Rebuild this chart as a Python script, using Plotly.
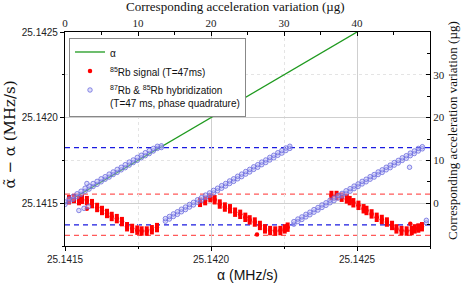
import plotly.graph_objects as go

# ---------------- data ----------------
# alpha line (MHz/s): alpha_hat - alpha reference vs alpha
alpha_line = [25.1415, 25.1428]

# 87Rb & 85Rb hybridization (in µg, top axis vs right axis), two repeats per step
blue_x = [0.00, 0.55, 1.10, 1.65, 2.20, 2.75, 3.30, 3.85, 4.40, 4.95, 5.50, 6.05, 6.60, 7.15,
          7.70, 8.25, 8.80, 9.35, 9.90, 10.45, 11.00, 11.55, 12.10, 12.65, 13.20,
          13.75, 14.30, 14.85, 15.40, 15.95, 16.50, 17.05, 17.60, 18.15, 18.70, 19.25, 19.80,
          20.35, 20.90, 21.45, 22.00, 22.55, 23.10, 23.65, 24.20, 24.75, 25.30, 25.85, 26.40,
          26.95, 27.50, 28.05, 28.60, 29.15, 29.70, 30.25, 30.80,
          31.35, 31.90, 32.45, 33.00, 33.55, 34.10, 34.65, 35.20, 35.75, 36.30, 36.85, 37.40,
          37.95, 38.50, 39.05, 39.60, 40.15, 40.70, 41.25, 41.80, 42.35, 42.90, 43.45, 44.00,
          44.55, 45.10, 45.65, 46.20, 46.75, 47.30, 47.85, 48.40, 48.95,
          49.50]
blue_ya = [-0.3, 0.4, 0.9, 1.5, 2.1, 2.8, 3.3, 3.9, 4.4, 5.0, 5.6, 6.1, 6.7, 7.2,
           7.8, 8.3, 8.9, 9.5, 10.0, 10.6, 11.1, 11.6, 12.2, 12.8, 13.0,
           -4.2, -3.7, -3.1, -2.6, -2.0, -1.5, -0.9, -0.4, 0.2, 0.7, 1.3, 1.8,
           2.4, 2.9, 3.5, 4.0, 4.6, 5.1, 5.7, 6.2, 6.8, 7.3, 7.9, 8.4,
           9.0, 9.5, 10.1, 10.6, 11.2, 11.7, 12.3, 12.8,
           -4.9, -4.3, -3.8, -3.2, -2.7, -2.1, -1.6, -1.0, -0.5, 0.1, 0.6, 1.2,
           1.7, 2.3, 2.8, 3.4, 3.9, 4.5, 5.0, 5.6, 6.1, 6.7, 7.2, 7.8,
           8.3, 8.9, 9.4, 10.0, 10.5, 11.1, 11.6, 12.2, 12.7,
           -4.6]
blue_yb = [0.3, 1.0, 1.6, 2.2, 2.8, 3.5, 4.0, 4.6, 5.1, 5.7, 6.2, 6.8, 7.3, 7.9,
           8.4, 9.0, 9.6, 10.1, 10.7, 11.2, 11.8, 12.3, 12.8, 13.3, 13.4,
           -3.6, -3.1, -2.5, -2.0, -1.4, -0.9, -0.3, 0.2, 0.8, 1.3, 1.9, 2.4,
           3.0, 3.5, 4.1, 4.6, 5.2, 5.7, 6.3, 6.8, 7.4, 7.9, 8.5, 9.0,
           9.6, 10.1, 10.7, 11.2, 11.8, 12.3, 12.9, 13.3,
           -4.3, -3.7, -3.2, -2.6, -2.1, -1.5, -1.0, -0.4, 0.1, 0.7, 1.2, 1.8,
           2.3, 2.9, 3.4, 4.0, 4.5, 5.1, 5.6, 6.2, 6.7, 7.3, 7.8, 8.4,
           8.9, 9.5, 10.0, 10.6, 11.1, 11.7, 12.2, 12.8, 13.2,
           -4.0]
blue_out_x = [1.9, 2.6, 3.2, 3.0, 47.2]
blue_out_y = [-1.7, -1.2, -0.8, 4.6, 8.4]

# 85Rb signal (µg)
red_x = [0.55, 1.23, 1.92, 2.33, 3.0, 3.7, 4.4, 5.07, 5.75, 6.4, 7.1, 7.8, 8.5, 9.2, 9.9,
         10.5, 11.2, 11.9, 12.6,
         18.5, 19.2, 19.9, 20.5, 21.2, 21.9, 22.6, 23.3, 24.0, 24.7, 25.3, 26.0, 26.7, 27.4,
         28.1, 28.8, 29.5, 30.1, 30.5,
         36.5, 37.2, 37.9, 38.6, 39.0, 39.5, 40.2, 40.9, 41.3, 42.0, 42.7, 43.4, 44.1, 44.8,
         45.4, 46.1, 46.8, 47.5, 47.9, 48.4, 48.9]
red_y = [0.8, 1.1, 0.6, 0.9, 0.6, -0.1, -1.0, -1.7, -2.4, -3.1, -3.6, -4.3, -5.5, -5.9, -6.3,
         -6.5, -6.5, -6.2, -5.7,
         0.2, 0.6, 1.3, 0.8, -0.2, -0.9, -1.3, -2.1, -2.6, -3.3, -3.9, -4.4, -5.2, -6.0,
         -6.4, -6.5, -6.4, -6.0, -5.6,
         1.8, 1.8, 1.4, 1.0, 0.6, 0.1, -0.5, -1.3, -1.7, -2.5, -3.3, -3.8, -4.4, -5.2,
         -6.0, -6.4, -6.5, -6.4, -6.0, -5.8, -5.5]
red_out_x = [3.0, 26.3, 47.3]
red_out_y = [-1.3, -7.3, -4.8]

# reference levels (µg)
blue_levels = [13.0, -5.05]
red_levels = [2.1, -7.5]

# ---------------- figure ----------------
SANS = "Liberation Sans, Arial, sans-serif"
SERIF = "Liberation Serif, Times New Roman, serif"
MATHSERIF = "DejaVu Serif, serif"

fig = go.Figure()

fig.add_trace(go.Scatter(
    x=alpha_line, y=alpha_line, mode="lines", name="α",
    line=dict(color="#1f9a1f", width=1.3), xaxis="x", yaxis="y"))

fig.add_trace(go.Scatter(
    x=red_x, y=red_y, mode="markers", name="<sup>85</sup>Rb signal (T=47ms)",
    marker=dict(color="#ff0000", size=4.5, line=dict(width=0)),
    error_y=dict(type="constant", value=1.1, color="#ff0000", thickness=4, width=0),
    xaxis="x2", yaxis="y2", legendgroup="red"))
fig.add_trace(go.Scatter(
    x=red_out_x, y=red_out_y, mode="markers", showlegend=False,
    marker=dict(color="#ff0000", size=4.5, line=dict(width=0)),
    xaxis="x2", yaxis="y2", legendgroup="red"))

blue_marker = dict(color="rgba(185,185,245,0.45)", size=4.5,
                   line=dict(color="rgba(100,100,220,0.75)", width=1))
fig.add_trace(go.Scatter(
    x=blue_x, y=blue_ya, mode="markers",
    name="<sup>87</sup>Rb &amp; <sup>85</sup>Rb hybridization<br>(T=47 ms, phase quadrature)",
    marker=blue_marker, xaxis="x2", yaxis="y2", legendgroup="blue"))
fig.add_trace(go.Scatter(
    x=blue_x, y=blue_yb, mode="markers", showlegend=False,
    marker=blue_marker, xaxis="x2", yaxis="y2", legendgroup="blue"))
fig.add_trace(go.Scatter(
    x=blue_out_x, y=blue_out_y, mode="markers", showlegend=False,
    marker=blue_marker, xaxis="x2", yaxis="y2", legendgroup="blue"))

for lv in blue_levels:
    fig.add_shape(type="line", xref="paper", x0=0, x1=1, yref="y2", y0=lv, y1=lv,
                  line=dict(color="#1a1ae0", width=1.3, dash="5px,4px"), layer="between")
for lv in red_levels:
    fig.add_shape(type="line", xref="paper", x0=0, x1=1, yref="y2", y0=lv, y1=lv,
                  line=dict(color="#ff5a5a", width=1.3, dash="5px,4px"), layer="between")

axis_common = dict(showline=True, linecolor="black", linewidth=1.2, zeroline=False,
                   tickcolor="black", tickwidth=1, automargin=False)

fig.update_layout(
    width=463, height=284,
    margin=dict(l=65, r=33, t=32, b=38, pad=0, autoexpand=False),
    paper_bgcolor="white", plot_bgcolor="white",
    showlegend=True,
    xaxis=dict(range=[25.1415, 25.14275], tick0=25.1415, dtick=0.0005, tickformat=".4f",
               ticks="outside", ticklen=4, showgrid=True, gridcolor="#cfcfcf", gridwidth=1,
               tickfont=dict(family=SANS, size=10, color="#222"),
               minor=dict(dtick=0.00025, ticks="outside", ticklen=2, tickcolor="black",
                          showgrid=True, gridcolor="#e4e4e4", griddash="dot"),
               **axis_common),
    yaxis=dict(range=[25.14125, 25.1425], tick0=25.1415, dtick=0.0005, tickformat=".4f",
               ticks="outside", ticklen=4, showgrid=True, gridcolor="#cfcfcf", gridwidth=1,
               tickfont=dict(family=SANS, size=10, color="#222"),
               minor=dict(dtick=0.00025, ticks="outside", ticklen=2, tickcolor="black",
                          showgrid=True, gridcolor="#e4e4e4", griddash="dot"),
               **axis_common),
    xaxis2=dict(range=[0, 50], overlaying="x", side="top", anchor="y",
                tickvals=[0, 10, 20, 30, 40],
                ticks="inside", ticklen=4, showgrid=False,
                tickfont=dict(family=SERIF, size=11, color="#222"),
                minor=dict(tickvals=[5, 15, 25, 35, 45], ticks="inside", ticklen=3,
                           tickcolor="black"),
                **axis_common),
    yaxis2=dict(range=[-10, 40], overlaying="y", side="right", anchor="x",
                tickvals=[0, 10, 20, 30], ticks="inside", ticklen=4, showgrid=False,
                tickfont=dict(family=SERIF, size=11, color="#222"),
                minor=dict(tickvals=[-5, 5, 15, 25, 35], ticks="inside", ticklen=3,
                           tickcolor="black"),
                **axis_common),
    legend=dict(x=0.011, y=0.972, xanchor="left", yanchor="top",
                bgcolor="white", bordercolor="#888", borderwidth=1,
                font=dict(family=SANS, size=10, color="#111"),
                tracegroupgap=0, valign="top", itemwidth=30),
    annotations=[
        dict(text="α̃ − α (MHz/s)", xref="paper", yref="paper", x=-0.151, y=0.521,
             xanchor="center", yanchor="middle", textangle=-90, showarrow=False,
             font=dict(family=MATHSERIF, size=15, color="#111")),
        dict(text="α (MHz/s)", xref="paper", yref="paper", x=0.5, y=-0.136,
             xanchor="center", yanchor="middle", showarrow=False,
             font=dict(family=SANS, size=14, color="#111")),
        dict(text="Corresponding acceleration variation (µg)", xref="paper", yref="paper",
             x=0.468, y=1.117, xanchor="center", yanchor="middle", showarrow=False,
             font=dict(family=SERIF, size=13, color="#111")),
        dict(text="Corresponding acceleration variation (µg)", xref="paper", yref="paper",
             x=1.060, y=0.542, xanchor="center", yanchor="middle", textangle=-90,
             showarrow=False, font=dict(family=SERIF, size=13, color="#111")),
    ],
)

# remove the page's default 8px body margin so the figure sits at the window's corner
fig.write_html("out.html", config={"displayModeBar": False},
               post_script="document.body.style.margin='0px';")
